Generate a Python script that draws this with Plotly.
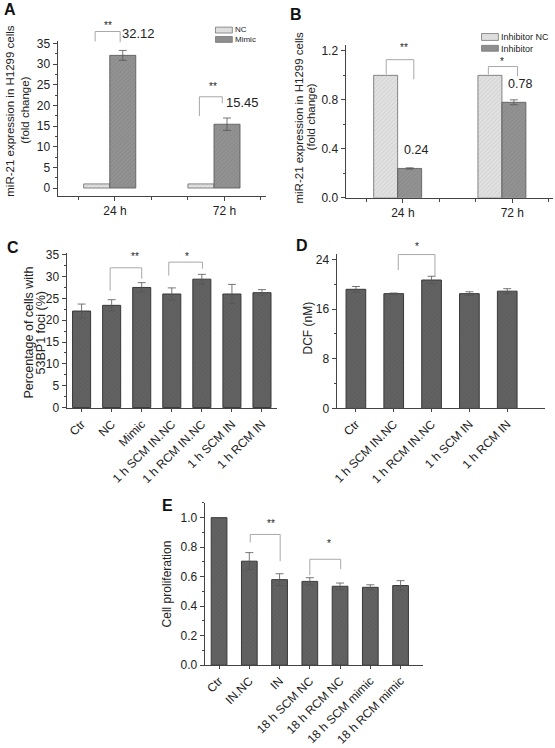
import plotly.graph_objects as go

W, H = 555, 748
FONT = "Liberation Sans, Arial, sans-serif"

# ---------------- data ----------------
A_groups = ["24 h", "72 h"]
A_nc = [1.0, 1.0]
A_mimic = [32.12, 15.45]
A_mimic_err = [1.2, 1.5]
A_value_text = ["32.12", "15.45"]
A_series = ["NC", "Mimic"]

B_groups = ["24 h", "72 h"]
B_inc = [1.0, 1.0]
B_inh = [0.24, 0.78]
B_inh_err = [0.005, 0.02]
B_value_text = ["0.24", "0.78"]
B_series = ["Inhibitor NC", "Inhibitor"]

C_cats = ["Ctr", "NC", "Mimic", "1 h SCM IN.NC", "1 h RCM IN.NC", "1 h SCM IN", "1 h RCM IN"]
C_vals = [22.1, 23.4, 27.5, 26.0, 29.4, 26.0, 26.3]
C_err = [1.6, 1.3, 1.1, 1.4, 1.1, 2.2, 0.7]

D_cats = ["Ctr", "1 h SCM IN.NC", "1 h RCM IN.NC", "1 h SCM IN", "1 h RCM IN"]
D_vals = [19.2, 18.5, 20.7, 18.5, 18.9]
D_err = [0.45, 0.1, 0.6, 0.3, 0.4]

E_cats = ["Ctr", "IN.NC", "IN", "18 h SCM NC", "18 h RCM NC", "18 h SCM mimic", "18 h RCM mimic"]
E_vals = [1.0, 0.705, 0.58, 0.568, 0.535, 0.528, 0.54]
E_err = [0.0, 0.058, 0.04, 0.025, 0.022, 0.017, 0.033]

# ---------------- layout constants ----------------
GROUP_POS = [1, 3]
GROUP_LABEL_POS = [1.1, 3.2]
GROUP_MINOR = [0.4, 1.8, 2.5, 3.9]

def dom_x(a, b):
    return [a / W, b / W]

def dom_y(top, bot):
    return [1 - bot / H, 1 - top / H]

panels = {
    "A": dict(x="x", y="y", xd=(54, 264), yd=(37, 194), xr=[0, 4], yr=[-1.9, 35.5]),
    "B": dict(x="x2", y="y2", xd=(344, 553), yd=(41, 196), xr=[0, 3.98], yr=[0, 1.245]),
    "C": dict(x="x3", y="y3", xd=(63, 275), yd=(252, 410), xr=[-0.5, 6.5], yr=[-0.2, 35.4]),
    "D": dict(x="x4", y="y4", xd=(335, 545), yd=(253, 410), xr=[-0.51, 5.0], yr=[0, 24.9]),
    "E": dict(x="x5", y="y5", xd=(202, 422), yd=(506, 671), xr=[-0.48, 6.74], yr=[0, 1.1]),
}

def yfrac(key, v):
    r0, r1 = panels[key]["yr"]
    return (v - r0) / (r1 - r0)

fig = go.Figure()

light = dict(color="#dcdcdc", line=dict(color="#6a6a6a", width=0.8),
             pattern=dict(shape="/", fgcolor="#bdbdbd", bgcolor="#e2e2e2", size=3, solidity=0.3))
dark = dict(color="#8c8c8c", line=dict(color="#555555", width=0.8),
            pattern=dict(shape="/", fgcolor="#7a7a7a", bgcolor="#939393", size=3, solidity=0.3))
solid = dict(color="#5e5e5e", line=dict(color="#383838", width=1),
             pattern=dict(shape="/", fgcolor="#4e4e4e", bgcolor="#626262", size=3, solidity=0.25))
err_style = dict(type="data", color="#555555", thickness=0.8, width=4)

# Panel A
pa = panels["A"]
fig.add_trace(go.Bar(x=[g - 0.25 for g in GROUP_POS], y=A_nc, width=0.5, marker=light,
                     xaxis=pa["x"], yaxis=pa["y"], name=A_series[0], showlegend=False))
fig.add_trace(go.Bar(x=[g + 0.25 for g in GROUP_POS], y=A_mimic, width=0.5, marker=dark,
                     error_y=dict(array=A_mimic_err, **err_style),
                     xaxis=pa["x"], yaxis=pa["y"], name=A_series[1], showlegend=False))
# Panel B
pb = panels["B"]
fig.add_trace(go.Bar(x=[g - 0.23 for g in GROUP_POS], y=B_inc, width=0.46, marker=light,
                     xaxis=pb["x"], yaxis=pb["y"], name=B_series[0], showlegend=False))
fig.add_trace(go.Bar(x=[g + 0.23 for g in GROUP_POS], y=B_inh, width=0.46, marker=dark,
                     error_y=dict(array=B_inh_err, **err_style),
                     xaxis=pb["x"], yaxis=pb["y"], name=B_series[1], showlegend=False))
# Panels C, D, E
for key, cats, vals, errs, w in (("C", C_cats, C_vals, C_err, 0.6),
                                  ("D", D_cats, D_vals, D_err, 0.52),
                                  ("E", E_cats, E_vals, E_err, 0.52)):
    p = panels[key]
    fig.add_trace(go.Bar(x=list(range(len(cats))), y=vals, width=w, marker=solid,
                         error_y=dict(array=errs, **err_style),
                         xaxis=p["x"], yaxis=p["y"], showlegend=False))

axis_base = dict(showline=True, linecolor="#444444", linewidth=1, showgrid=False, zeroline=False,
                 ticks="outside", ticklen=4, tickwidth=1, tickcolor="#444444",
                 tickfont=dict(size=12, color="#222222", family=FONT), fixedrange=True)

layout_axes = {}
def axname(s, kind):
    return kind + "axis" + s[1:]

minor_y = lambda d: dict(dtick=d, ticks="outside", ticklen=2, tickcolor="#444444")
y_ticks = {
    "A": dict(tick0=0, dtick=5, minor=minor_y(2.5)),
    "B": dict(tick0=0, dtick=0.4, tickformat=".1f", minor=minor_y(0.2)),
    "C": dict(tick0=0, dtick=5, minor=minor_y(2.5)),
    "D": dict(tick0=0, dtick=8, minor=minor_y(4)),
    "E": dict(tick0=0, dtick=0.2, tickformat=".1f", minor=minor_y(0.1)),
}
cat_map = {"C": C_cats, "D": D_cats, "E": E_cats}

for key, p in panels.items():
    xa = dict(axis_base, domain=dom_x(*p["xd"]), range=p["xr"], anchor=p["y"])
    if key in ("A", "B"):
        groups = A_groups if key == "A" else B_groups
        xa.update(tickmode="array", tickvals=GROUP_LABEL_POS, ticktext=groups,
                  minor=dict(tickmode="array", tickvals=GROUP_MINOR, ticks="outside", ticklen=3, tickcolor="#444444"))
    else:
        cats = cat_map[key]
        xa.update(tickmode="array", tickvals=list(range(len(cats))), ticktext=cats, tickangle=-45, ticklen=3)
    ya = dict(axis_base, domain=dom_y(*p["yd"]), range=p["yr"], anchor=p["x"], **y_ticks[key])
    layout_axes[axname(p["x"], "x")] = xa
    layout_axes[axname(p["y"], "y")] = ya

shapes = []
annotations = []

def bracket(key, xl, xr, ytop, ybl, ybr, stars, sx, sy):
    p = panels[key]
    yref = p["y"] + " domain"
    ln = dict(color="#a8a8a8", width=1)
    shapes.append(dict(type="line", xref=p["x"], yref=yref, x0=xl, x1=xl,
                       y0=yfrac(key, ybl), y1=yfrac(key, ytop), line=ln))
    shapes.append(dict(type="line", xref=p["x"], yref=yref, x0=xl, x1=xr,
                       y0=yfrac(key, ytop), y1=yfrac(key, ytop), line=ln))
    shapes.append(dict(type="line", xref=p["x"], yref=yref, x0=xr, x1=xr,
                       y0=yfrac(key, ybr), y1=yfrac(key, ytop), line=ln))
    annotations.append(dict(xref=p["x"], yref=yref, x=sx, y=yfrac(key, sy), text=stars, showarrow=False,
                            xanchor="center", yanchor="middle",
                            font=dict(size=10, color="#222222", family=FONT)))

bracket("A", 0.72, 1.2, 37.9, 35.5, 35.3, "**", 0.96, 39.4)
bracket("A", 2.72, 3.16, 22.1, 17.4, 20.5, "**", 2.99, 24.6)
bracket("B", 0.78, 1.31, 1.128, 1.008, 0.968, "**", 1.12, 1.226)
bracket("B", 2.74, 3.30, 1.072, 1.008, 0.992, "*", 3.01, 1.112)
bracket("C", 0.95, 2.0, 32.0, 26.8, 29.5, "**", 1.78, 34.6)
bracket("C", 2.9, 4.02, 33.3, 30.2, 31.8, "*", 3.5, 34.7)
bracket("D", 1.12, 2.09, 24.8, 22.3, 21.3, "*", 1.62, 26.1)
bracket("E", 1.03, 2.02, 0.886, 0.832, 0.705, "**", 1.72, 0.96)
bracket("E", 3.0, 4.02, 0.718, 0.61, 0.651, "*", 3.62, 0.826)

# value labels
for g, v, t in zip(GROUP_POS, A_mimic, A_value_text):
    annotations.append(dict(xref="x", yref="y domain", x=g + 0.55, y=yfrac("A", v), yshift=22, text=t,
                            showarrow=False, xanchor="center", yanchor="middle",
                            font=dict(size=13, color="#222222", family=FONT)))
for g, v, t in zip(GROUP_POS, B_inh, B_value_text):
    annotations.append(dict(xref="x2", yref="y2 domain", x=g + 0.35, y=yfrac("B", v), yshift=18, text=t,
                            showarrow=False, xanchor="center", yanchor="middle",
                            font=dict(size=12.5, color="#222222", family=FONT)))

def ann_px(x, y, text, size, angle=0, xanchor="center", align="center"):
    annotations.append(dict(xref="paper", yref="paper", x=x / W, y=1 - y / H, text=text,
                            showarrow=False, textangle=angle, xanchor=xanchor, yanchor="middle",
                            align=align, font=dict(size=size, color="#222222", family=FONT)))

# axis titles (each line placed separately to match the tight leading)
ann_px(6.5, 107, "miR-21 expression in H1299 cells", 11.5, angle=-90)
ann_px(21.5, 107, "(fold change)", 11.5, angle=-90)
ann_px(297.5, 114, "miR-21 expression in H1299 cells", 11.5, angle=-90)
ann_px(309.5, 114, "(fold change)", 11.5, angle=-90)
ann_px(25, 333, "Percentage of cells with", 12.5, angle=-90)
ann_px(37, 333, "53BP1 foci (%)", 12.5, angle=-90)
ann_px(306, 328, "DCF (nM)", 12, angle=-90)
ann_px(164, 588, "Cell proliferation", 12, angle=-90)

# panel letters
for letter, (lx, ly) in {"A": (6, 5), "B": (294, 10), "C": (9, 246), "D": (300, 244), "E": (165, 509)}.items():
    annotations.append(dict(xref="paper", yref="paper", x=lx / W, y=1 - ly / H, text="<b>%s</b>" % letter,
                            showarrow=False, xanchor="center", yanchor="middle",
                            font=dict(size=16, color="#111111", family=FONT)))

# legends (manual swatches)
def rect_px(x0, y0, x1, y1, fill, line="#777777"):
    shapes.append(dict(type="rect", xref="paper", yref="paper", x0=x0 / W, x1=x1 / W,
                       y0=1 - y1 / H, y1=1 - y0 / H, fillcolor=fill, line=dict(color=line, width=0.8)))

rect_px(213, 22.5, 230, 28.5, "#dedede")
rect_px(213, 32, 230, 38, "#8e8e8e")
ann_px(231, 30.3, "<br>".join(A_series), 8, xanchor="left", align="left")
rect_px(481, 29, 498, 36, "#dedede")
rect_px(481, 41, 498, 47, "#8e8e8e")
ann_px(499, 38.5, "<br>".join(B_series), 9, xanchor="left", align="left")

fig.update_layout(width=W, height=H, margin=dict(l=0, r=0, t=0, b=0),
                  paper_bgcolor="white", plot_bgcolor="white", barmode="overlay",
                  font=dict(family=FONT, color="#222222"),
                  shapes=shapes, annotations=annotations, **layout_axes)

fig.write_html("out.html", config={"displayModeBar": False},
               post_script="document.body.style.margin='0';")
